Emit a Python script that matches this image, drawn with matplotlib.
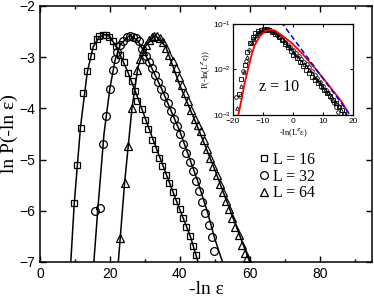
import numpy as np
import matplotlib
matplotlib.use('Agg')
import matplotlib.pyplot as plt
from matplotlib.ticker import MultipleLocator, LogLocator, NullLocator

# main panel data: -ln(eps) vs ln P(-ln eps)
x16 = [9.7, 10.5, 11.6, 12.4, 13.5, 14.5, 15.2, 16.2, 16.9, 17.9, 18.9, 19.8, 20.8,
       21.7, 22.9, 24.0, 25.2, 26.2, 27.1, 27.8, 29.1, 30.0, 30.9, 31.9, 32.9, 33.9,
       34.9, 35.9, 36.9, 37.9, 38.9, 39.9, 40.9, 41.9, 42.9, 43.9, 44.6]
y16 = [-5.84, -5.11, -4.38, -3.70, -3.28, -2.97, -2.78, -2.65, -2.58, -2.56, -2.56,
       -2.60, -2.68, -2.79, -2.95, -3.10, -3.31, -3.47, -3.67, -3.86, -4.02, -4.22,
       -4.41, -4.61, -4.79, -4.96, -5.13, -5.30, -5.46, -5.63, -5.80, -5.97, -6.14,
       -6.32, -6.50, -6.68, -6.86]

x32 = [15.7, 17.1, 17.9, 19.0, 20.0, 20.8, 21.4, 22.1, 22.9, 23.8, 24.8, 25.7, 26.7,
       27.4, 28.4, 29.3, 30.2, 31.1, 32.0, 32.9, 33.8, 34.7, 35.6, 36.5, 37.4, 38.3,
       39.2, 40.1, 41.0, 41.9, 42.8, 43.7, 44.6, 45.5, 46.4, 47.3, 48.2, 49.1, 49.7]
y32 = [-6.00, -5.94, -4.70, -4.15, -3.62, -3.25, -3.04, -2.89, -2.76, -2.68, -2.61,
       -2.58, -2.60, -2.63, -2.69, -2.84, -2.97, -3.10, -3.22, -3.35, -3.48, -3.62,
       -3.76, -3.90, -4.05, -4.20, -4.35, -4.50, -4.70, -4.88, -5.05, -5.22, -5.42,
       -5.62, -5.82, -6.05, -6.28, -6.52, -6.78]

x64 = [22.9, 24.2, 25.2, 26.3, 27.8, 28.6, 29.5, 30.3, 31.1, 31.9, 32.7, 33.5, 34.3,
       35.2, 36.1, 37.0, 37.9, 38.8, 39.7, 40.6, 41.5, 42.4, 43.3, 44.2, 45.1, 46.0,
       46.9, 47.8, 48.7, 49.6, 50.5, 51.4, 52.3, 53.2, 54.1, 55.0, 55.9, 56.8, 57.7,
       58.6, 59.2]
y64 = [-6.54, -5.45, -4.74, -3.99, -3.25, -3.04, -2.88, -2.76, -2.67, -2.61, -2.58,
       -2.58, -2.62, -2.70, -2.82, -2.95, -3.08, -3.22, -3.38, -3.54, -3.70, -3.86,
       -4.03, -4.20, -4.32, -4.45, -4.62, -4.79, -4.96, -5.13, -5.30, -5.47, -5.64,
       -5.81, -5.97, -6.14, -6.31, -6.48, -6.66, -6.83, -6.92]

# fitted curves
fit16_x = [8.8, 9.8, 11.6, 13.5, 15.2, 17.0, 18.5, 20.0, 22.0, 25.0, 28.0, 32.0, 36.0, 40.0, 43.0, 45.2]
fit16_y = [-7.0, -5.85, -4.35, -3.30, -2.80, -2.60, -2.56, -2.60, -2.82, -3.27, -3.80, -4.55, -5.27, -5.98, -6.50, -7.0]
fit32_x = [15.4, 16.5, 18.3, 20.0, 21.5, 23.0, 25.7, 28.0, 30.0, 35.0, 40.0, 45.0, 48.0, 50.0, 52.2]
fit32_y = [-7.0, -6.0, -4.5, -3.6, -3.05, -2.75, -2.57, -2.68, -2.93, -3.65, -4.45, -5.40, -6.05, -6.55, -7.0]
fit64_x = [22.4, 24.2, 26.3, 28.0, 30.0, 33.0, 36.0, 40.0, 45.0, 50.0, 55.0, 60.0]
fit64_y = [-7.0, -5.45, -4.0, -3.2, -2.8, -2.57, -2.8, -3.55, -4.35, -5.2, -6.1, -7.0]

sizes = [16, 32, 64]
labels = ['L = 16', 'L = 32', 'L = 64']
z = 10

# inset: scaling function and asymptote
red_x = [-18.2, -17.1, -16.0, -14.9, -13.8, -12.7, -11.0, -9.3, -7.7, -6.0, -3.8, -0.4,
         2.9, 7.3, 11.8, 16.2, 18.2]
red_y = [1.0e-3, 2.3e-3, 5.4e-3, 1.07e-2, 2.1e-2, 3.5e-2, 5.5e-2, 7.0e-2, 7.5e-2, 7.2e-2,
         5.7e-2, 3.8e-2, 2.3e-2, 1.07e-2, 4.6e-3, 1.95e-3, 1.18e-3]
blue_x = [-4.0, 19.5]
blue_y = [0.112, 9.0e-4]

serif = ['Liberation Serif', 'DejaVu Serif']
sans = ['Liberation Sans', 'DejaVu Sans']
plt.rcParams['font.family'] = sans
plt.rcParams['mathtext.fontset'] = 'custom'
plt.rcParams['mathtext.rm'] = 'Liberation Sans'

fig = plt.figure(figsize=(3.74, 2.97), dpi=100)
ax = fig.add_axes([0.107, 0.118, 0.888, 0.862])

xs = [x16, x32, x64]
ys = [y16, y32, y64]
fits = [(fit16_x, fit16_y), (fit32_x, fit32_y), (fit64_x, fit64_y)]
markers = ['s', 'o', '^']
msizes = [5.0, 5.6, 5.4]

for (fx, fy) in fits:
    ax.plot(fx, fy, color='black', lw=1.1)
handles = []
for x, y, m, ms, lab in zip(xs, ys, markers, msizes, labels):
    h, = ax.plot(x, y, ls='none', marker=m, ms=ms, mfc='none', mec='black', mew=0.9, label=lab)
    handles.append(h)

ax.set_xlim(0, 95)
ax.set_ylim(-7, -2)
ax.xaxis.set_major_locator(MultipleLocator(20))
ax.xaxis.set_minor_locator(MultipleLocator(10))
ax.yaxis.set_major_locator(MultipleLocator(1))
ax.tick_params(which='both', direction='in', top=True, right=True, labelsize=10, width=1.0)
ax.tick_params(which='major', length=4.5, pad=3.5)
ax.tick_params(which='minor', length=2.5)
for s in ax.spines.values():
    s.set_linewidth(1.1)

ax.set_xlabel('-ln ε', family=serif, fontsize=14)
ax.set_ylabel('ln P(-ln ε)', family=serif, fontsize=14)
ax.xaxis.set_label_coords(0.5, -0.075)
ax.yaxis.set_label_coords(-0.065, 0.5)

leg = ax.legend(handles=handles, loc='upper left', bbox_to_anchor=(0.64, 0.455), frameon=False,
                handlelength=0.6, handletextpad=0.25, labelspacing=0.05, borderaxespad=0,
                prop={'family': serif, 'size': 11.5})

# inset
axi = fig.add_axes([0.623, 0.613, 0.321, 0.306])
for x, y, m, L in zip(xs, ys, markers, sizes):
    xi = np.array(x) - z * np.log(L)
    yi = np.exp(np.array(y))
    axi.plot(xi, yi, ls='none', marker=m, ms=2.6, mfc='none', mec='black', mew=0.6)
axi.plot(red_x, red_y, color='red', lw=1.3)
axi.plot(blue_x, blue_y, color='blue', lw=1.1, ls=(0, (3.5, 2)))
axi.set_yscale('log')
axi.set_xlim(-20, 20)
axi.set_ylim(1e-3, 1e-1)
axi.xaxis.set_major_locator(MultipleLocator(10))
axi.yaxis.set_major_locator(LogLocator(base=10))
axi.yaxis.set_minor_locator(NullLocator())
axi.tick_params(which='both', direction='in', top=True, right=True, labelsize=6,
                length=2.5, width=0.8, pad=1.5)
axi.tick_params(axis='x', pad=2.5)
for s in axi.spines.values():
    s.set_linewidth(0.9)
axi.set_xlabel('-ln(L$^z$ε)', family=serif, fontsize=6, labelpad=0.5)
axi.set_ylabel('P(-ln(L$^z$ε))', family=serif, fontsize=6, labelpad=0.5)
axi.text(0.383, 0.31, 'z = 10', transform=axi.transAxes, ha='center', va='center',
         family=serif, fontsize=11.5)

fig.savefig('out.png', dpi=100)
